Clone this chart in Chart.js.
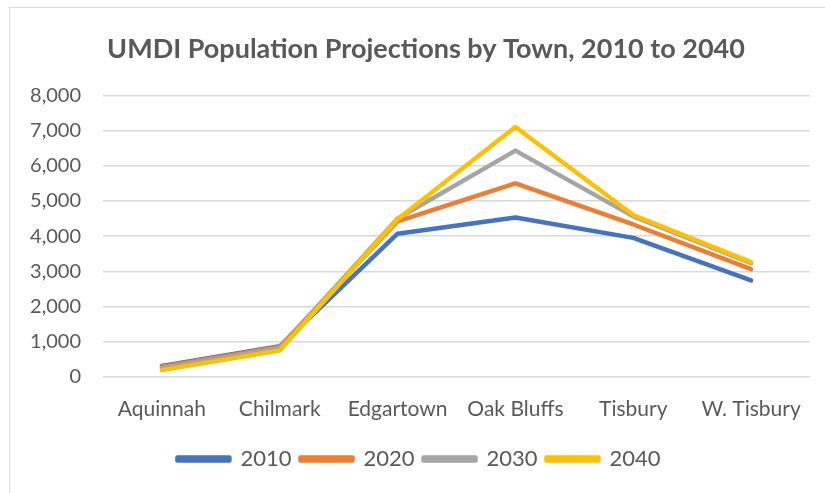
<!DOCTYPE html>
<html>
<head>
<meta charset="utf-8">
<script src="https://cdn.jsdelivr.net/npm/chart.js@4"></script>
<style>
  html, body { margin: 0; padding: 0; background: #fff; overflow: hidden; }
  #frame { position: absolute; left: 9px; top: 7px; width: 830px; height: 500px; border: 1px solid #d9d9d9; box-sizing: border-box; }
  #wrap { position: absolute; left: 0; top: 0; width: 825px; height: 493px; }
</style>
</head>
<body>
<div id="frame"></div>
<div id="wrap"><canvas id="chart"></canvas></div>
<script>
const towns = ['Aquinnah', 'Chilmark', 'Edgartown', 'Oak Bluffs', 'Tisbury', 'W. Tisbury'];
const years = ['2010', '2020', '2030', '2040'];
const pop2010 = [311, 866, 4067, 4527, 3949, 2740];
const pop2020 = [290, 850, 4420, 5500, 4330, 3060];
const pop2030 = [250, 820, 4500, 6430, 4560, 3230];
const pop2040 = [190, 750, 4480, 7100, 4600, 3260];
const colors = ['#4472C4', '#ED7D31', '#A5A5A5', '#FFC000'];

const series = [pop2010, pop2020, pop2030, pop2040];
const font = "Lato, 'Open Sans', sans-serif";

// centre title and legend on the frame rather than the padded canvas
const blockShift = {
  id: 'blockShift',
  afterLayout(chart) {
    if (chart.titleBlock) {
      chart.titleBlock.left = 40;
      chart.titleBlock.right = 812;
    }
    if (chart.legend) {
      chart.legend.left += 11;
      chart.legend.right += 11;
    }
  }
};

new Chart(document.getElementById('chart'), {
  type: 'line',
  plugins: [blockShift],
  data: {
    labels: towns,
    datasets: series.map((vals, i) => ({
      label: years[i],
      data: vals,
      borderColor: colors[i],
      backgroundColor: colors[i],
      borderWidth: 4.5,
      borderCapStyle: 'round',
      borderJoinStyle: 'round',
      pointRadius: 0,
      tension: 0,
      order: series.length - i,
    }))
  },
  options: {
    responsive: true,
    maintainAspectRatio: false,
    animation: false,
    layout: {
      padding: { left: 6, right: 15, top: 25, bottom: 13 }
    },
    plugins: {
      title: {
        display: true,
        text: 'UMDI Population Projections by Town, 2010 to 2040',
        color: '#595959',
        font: { family: font, size: 27, weight: 'bold' },
        padding: { top: 8, bottom: 30 }
      },
      legend: {
        position: 'bottom',
        labels: {
          sort: (a, b) => a.datasetIndex - b.datasetIndex,
          color: '#595959',
          font: { family: font, size: 22 },
          boxWidth: 52,
          boxHeight: 3,
          padding: 9
        }
      },
      tooltip: { enabled: false }
    },
    scales: {
      x: {
        offset: true,
        afterFit: scale => { scale.height += 5; },
        grid: { display: false },
        border: { display: false },
        ticks: {
          color: '#595959',
          font: { family: font, size: 21 },
          padding: 12
        }
      },
      y: {
        min: 0,
        max: 8000,
        afterFit: scale => { scale.width = 97; },
        grid: { color: '#d9d9d9', lineWidth: 1.5, drawTicks: false },
        border: { display: false },
        ticks: {
          stepSize: 1000,
          color: '#595959',
          font: { family: font, size: 20 },
          padding: 22,
          callback: v => v.toLocaleString('en-US')
        }
      }
    }
  }
});
</script>
</body>
</html>
